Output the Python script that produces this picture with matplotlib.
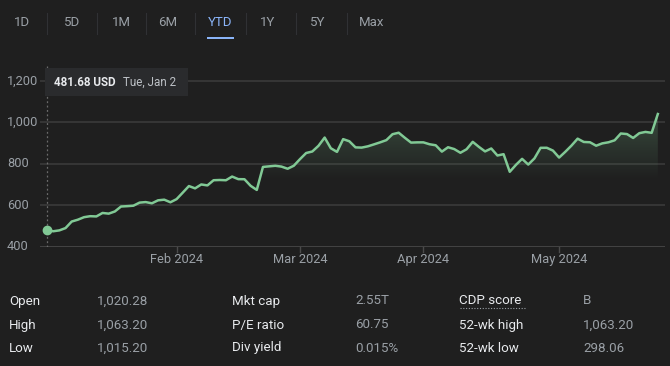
import numpy as np
import pandas as pd
import matplotlib
matplotlib.use("Agg")
import matplotlib.pyplot as plt
from matplotlib.patches import Rectangle, Polygon
from matplotlib.colors import LinearSegmentedColormap

plt.rcParams['font.family'] = ['Roboto', 'DejaVu Sans']

# --- data (daily closes, Jan 2 - May 23 2024) ---
jan = [481.68, 475.69, 479.98, 490.97, 522.53, 531.40, 543.50, 548.22, 547.10, 563.82,
       560.53, 571.07, 594.91, 596.54, 598.73, 613.62, 616.17, 610.31, 624.65, 627.74, 615.27]
feb = [630.27, 661.60, 693.32, 682.23, 700.99, 696.41, 721.33, 722.48, 721.28, 739.00,
       726.58, 726.13, 694.52, 674.72, 785.38, 788.17, 790.92, 787.01, 776.63, 791.12]
mar = [822.79, 852.37, 859.64, 887.00, 926.69, 875.28, 857.74, 919.13, 908.88, 879.44,
       878.37, 884.55, 893.98, 903.72, 914.35, 942.89, 950.02, 925.61, 902.50, 903.56]
apr = [903.63, 894.52, 889.64, 859.05, 880.08, 871.33, 853.54, 870.39, 906.16, 881.86,
       860.01, 874.15, 840.35, 846.71, 762.00, 795.18, 824.23, 796.77, 826.32, 877.35,
       877.57, 864.02]
may = [830.41, 858.17, 887.89, 921.40, 905.54, 904.12, 887.47, 898.78, 903.99, 913.56,
       946.30, 943.59, 924.79, 947.80, 953.86, 949.50, 1040.00]
prices = np.array(jan + feb + mar + apr + may)

holidays = ["2024-01-15", "2024-02-19", "2024-03-29"]
dates = pd.bdate_range("2024-01-02", "2024-05-23")
dates = dates[~dates.isin(pd.to_datetime(holidays))]

y_ticks = [400, 600, 800, 1000, 1200]
y_labels = ["400", "600", "800", "1,000", "1,200"]
month_labels = ["Feb 2024", "Mar 2024", "Apr 2024", "May 2024"]
tabs = ["1D", "5D", "1M", "6M", "YTD", "1Y", "5Y", "Max"]
stats = [("Open", "1,020.28", "Mkt cap", "2.55T", "CDP score", "B"),
         ("High", "1,063.20", "P/E ratio", "60.75", "52-wk high", "1,063.20"),
         ("Low", "1,015.20", "Div yield", "0.015%", "52-wk low", "298.06")]

BG = "#1f1f1f"
GREEN = "#81c995"
GRID = "#3a3a3a"
TXT = "#9aa0a6"

W, H = 670, 366
fig = plt.figure(figsize=(W / 100, H / 100), dpi=100, facecolor=BG)


def fx(px):
    return px / W


def fy(py):
    return 1 - py / H


# --- chart axes ---
ax = fig.add_axes([fx(40), fy(247), fx(625), (247 - 60) / H])
ax.set_facecolor(BG)
x = np.arange(len(prices))
ax.set_xlim(-7 / 6.17, (665 - 47) / 6.17)
ax.set_ylim(400, 1300)
for s in ax.spines.values():
    s.set_visible(False)
ax.set_xticks([])
ax.set_yticks([])

for v in y_ticks:
    ax.axhline(v, color=GRID if v > 400 else "#4a4a4a", lw=1.2, zorder=1)

# gradient fill under the line
poly_xy = np.column_stack([np.r_[x, x[-1], x[0]], np.r_[prices, 400, 400]])
poly = Polygon(poly_xy, closed=True, facecolor="none", edgecolor="none")
ax.add_patch(poly)
cmap = LinearSegmentedColormap.from_list(
    "g", [(0.506, 0.788, 0.584, 0.0), (0.506, 0.788, 0.584, 0.0),
          (0.506, 0.788, 0.584, 0.25)])
grad = np.linspace(0, 1, 256).reshape(-1, 1)
im = ax.imshow(grad, cmap=cmap, aspect="auto", origin="lower",
               extent=[x[0], x[-1], 400, prices.max()], zorder=2)
im.set_clip_path(poly)

ax.plot(x, prices, color=GREEN, lw=1.8, zorder=4, solid_joinstyle="round")
ax.plot(x[0], prices[0], "o", color=GREEN, ms=6, zorder=5)

# dotted hover line
ax.plot([0, 0], [400, 1270], color="#6b6b6b", lw=0.9, ls=(0, (1.5, 2)), zorder=3)

# month ticks and labels
for lab, m in zip(month_labels, [2, 3, 4, 5]):
    i = int(np.argmax(dates.month == m))
    ax.plot([i, i], [400, 400 - 26], color="#4a4a4a", lw=1, clip_on=False)
    ax.text(i, 400 - 60, lab, ha="center", va="center", color=TXT, fontsize=9.3,
            clip_on=False)

# y labels
for v, lab in zip(y_ticks, y_labels):
    ax.text(-1.13 - 33 / 6.17, v, lab, ha="left", va="center", color=TXT,
            fontsize=9.2, clip_on=False)

# tooltip
fig.patches.append(Rectangle((fx(45), fy(96)), fx(143), 28 / H, transform=fig.transFigure,
                             facecolor="#2a2b2d", edgecolor="none", zorder=6))
fig.text(fx(54), fy(82), "481.68 USD", color="#e8eaed", fontsize=8.4, fontweight="bold",
         va="center", ha="left", zorder=7)
fig.text(fx(123), fy(82), "Tue, Jan 2", color="#bdc1c6", fontsize=8.4,
         va="center", ha="left", zorder=7)

# range tabs
tab_x = [22, 72, 121, 168, 220, 268, 318, 372]
for tx, t in zip(tab_x, tabs):
    fig.text(fx(tx), fy(23), t, ha="center", va="center", fontsize=9.5,
             color="#8ab4f8" if t == "YTD" else TXT)
for sx in [47, 97, 146, 195, 246, 296, 347]:
    fig.add_artist(plt.Line2D([fx(sx), fx(sx)], [fy(13), fy(34)], color="#303134",
                              lw=0.8, transform=fig.transFigure))
fig.patches.append(Rectangle((fx(207), fy(39)), fx(27), 2.5 / H, transform=fig.transFigure,
                             facecolor="#8ab4f8", edgecolor="none"))

# stats table
col_x = [9, 97, 232, 355, 459, 583]
row_y = [301, 325, 348]
for r, row in zip(row_y, stats):
    for c, (cx, val) in enumerate(zip(col_x, row)):
        fig.text(fx(cx), fy(r), val, ha="left", va="center", fontsize=9.6,
                 color="#e8eaed" if c % 2 == 0 else TXT)
fig.add_artist(plt.Line2D([fx(460), fx(526)], [fy(308), fy(308)], color="#9aa0a6",
                          lw=0.8, ls=(0, (1, 1.5)), transform=fig.transFigure))

fig.savefig("out.png", dpi=100, facecolor=BG)
